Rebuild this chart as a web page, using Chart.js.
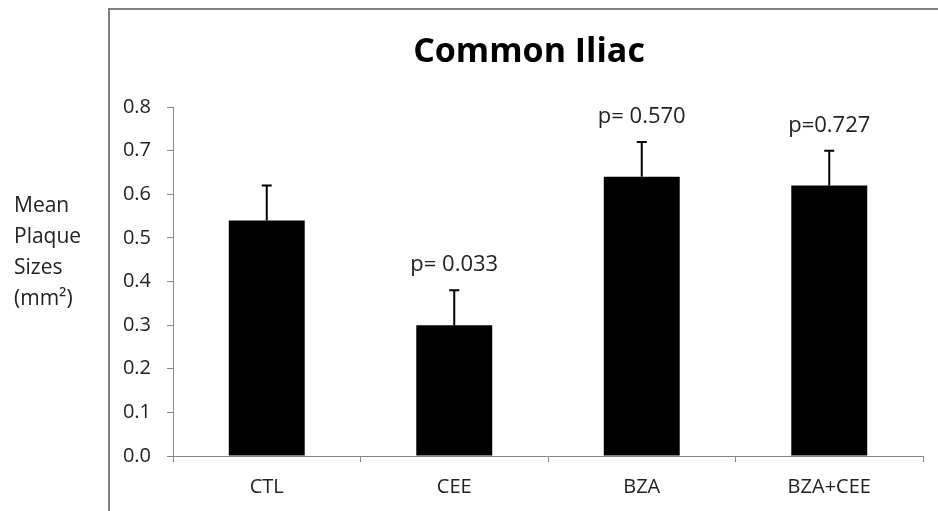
<!DOCTYPE html>
<html>
<head>
<meta charset="utf-8">
<script src="https://cdn.jsdelivr.net/npm/chart.js@4.4.0/dist/chart.umd.min.js"></script>
<style>
  html, body { margin: 0; padding: 0; background: #fff; }
  #wrap { width: 938px; height: 511px; position: relative; }
</style>
</head>
<body>
<div id="wrap"><canvas id="chart"></canvas></div>
<script>
// Common Iliac - mean plaque sizes per group
const groups = ['CTL', 'CEE', 'BZA', 'BZA+CEE'];
const meanSizes = [0.54, 0.30, 0.64, 0.62];
const errorUp = [0.08, 0.08, 0.08, 0.08];
const pLabels = ['', 'p= 0.033', 'p= 0.570', 'p=0.727'];
const yTicks = [0, 0.1, 0.2, 0.3, 0.4, 0.5, 0.6, 0.7, 0.8];
const yTitleLines = ['Mean', 'Plaque', 'Sizes', '(mm\u00B2)'];
const chartTitle = 'Common Iliac';

const FONT = '"Open Sans", "Noto Sans", sans-serif';
const AXIS_GREY = '#868686';

// error bars + p values drawn over the bars
const annotations = {
    id: 'annotations',
    afterDatasetsDraw(chart) {
        const ctx = chart.ctx;
        const meta = chart.getDatasetMeta(0);
        const y = chart.scales.y;
        ctx.save();
        meta.data.forEach((bar, i) => {
            const top = y.getPixelForValue(meanSizes[i]);
            const errTop = y.getPixelForValue(meanSizes[i] + errorUp[i]);
            ctx.strokeStyle = '#000';
            ctx.lineWidth = 2;
            ctx.beginPath();
            ctx.moveTo(bar.x, top);
            ctx.lineTo(bar.x, errTop);
            ctx.moveTo(bar.x - 5, errTop);
            ctx.lineTo(bar.x + 5, errTop);
            ctx.stroke();
            if (pLabels[i]) {
                ctx.fillStyle = '#222';
                ctx.font = '22px ' + FONT;
                ctx.textAlign = 'center';
                ctx.textBaseline = 'alphabetic';
                ctx.fillText(pLabels[i], bar.x, errTop - 19);
            }
        });
        ctx.restore();
    },
    afterDraw(chart) {
        const ctx = chart.ctx;
        ctx.save();
        // outer frame (only left and top edges visible)
        ctx.strokeStyle = '#808080';
        ctx.lineWidth = 2;
        ctx.beginPath();
        ctx.moveTo(109, 520);
        ctx.lineTo(109, 9);
        ctx.lineTo(945, 9);
        ctx.stroke();
        // title
        ctx.fillStyle = '#000';
        ctx.font = 'bold 34px ' + FONT;
        ctx.textAlign = 'center';
        ctx.textBaseline = 'middle';
        ctx.fillText(chartTitle, 529, 52);
        // y axis title
        ctx.fillStyle = '#222';
        ctx.font = '21px ' + FONT;
        ctx.textAlign = 'left';
        ctx.textBaseline = 'alphabetic';
        yTitleLines.forEach((t, i) => ctx.fillText(t, 14, 212 + i * 31));
        ctx.restore();
    }
};

new Chart(document.getElementById('chart'), {
    type: 'bar',
    data: {
        labels: groups,
        datasets: [{
            data: meanSizes,
            backgroundColor: '#000',
            borderWidth: 0,
            categoryPercentage: 1,
            barPercentage: 0.405
        }]
    },
    options: {
        responsive: true,
        maintainAspectRatio: false,
        animation: false,
        devicePixelRatio: 1,
        layout: { padding: { left: 110, top: 107, right: 15, bottom: 15 } },
        plugins: {
            legend: { display: false },
            tooltip: { enabled: false },
            title: { display: false }
        },
        scales: {
            x: {
                afterFit: s => { s.height = 40; },
                grid: { drawOnChartArea: false, drawTicks: true, tickLength: 6, color: AXIS_GREY },
                border: { color: AXIS_GREY, width: 1 },
                ticks: { color: '#222', font: { family: FONT, size: 20 }, padding: 13 }
            },
            y: {
                min: 0,
                max: 0.8,
                afterFit: s => { s.width = 63; },
                afterBuildTicks: s => { s.ticks = yTicks.map(v => ({ value: v })); },
                grid: { drawOnChartArea: false, drawTicks: true, tickLength: 6, color: AXIS_GREY },
                border: { color: AXIS_GREY, width: 1 },
                ticks: {
                    color: '#222',
                    font: { family: FONT, size: 20 },
                    padding: 16,
                    callback: v => Number(v).toFixed(1)
                }
            }
        }
    },
    plugins: [annotations]
});
</script>
</body>
</html>
